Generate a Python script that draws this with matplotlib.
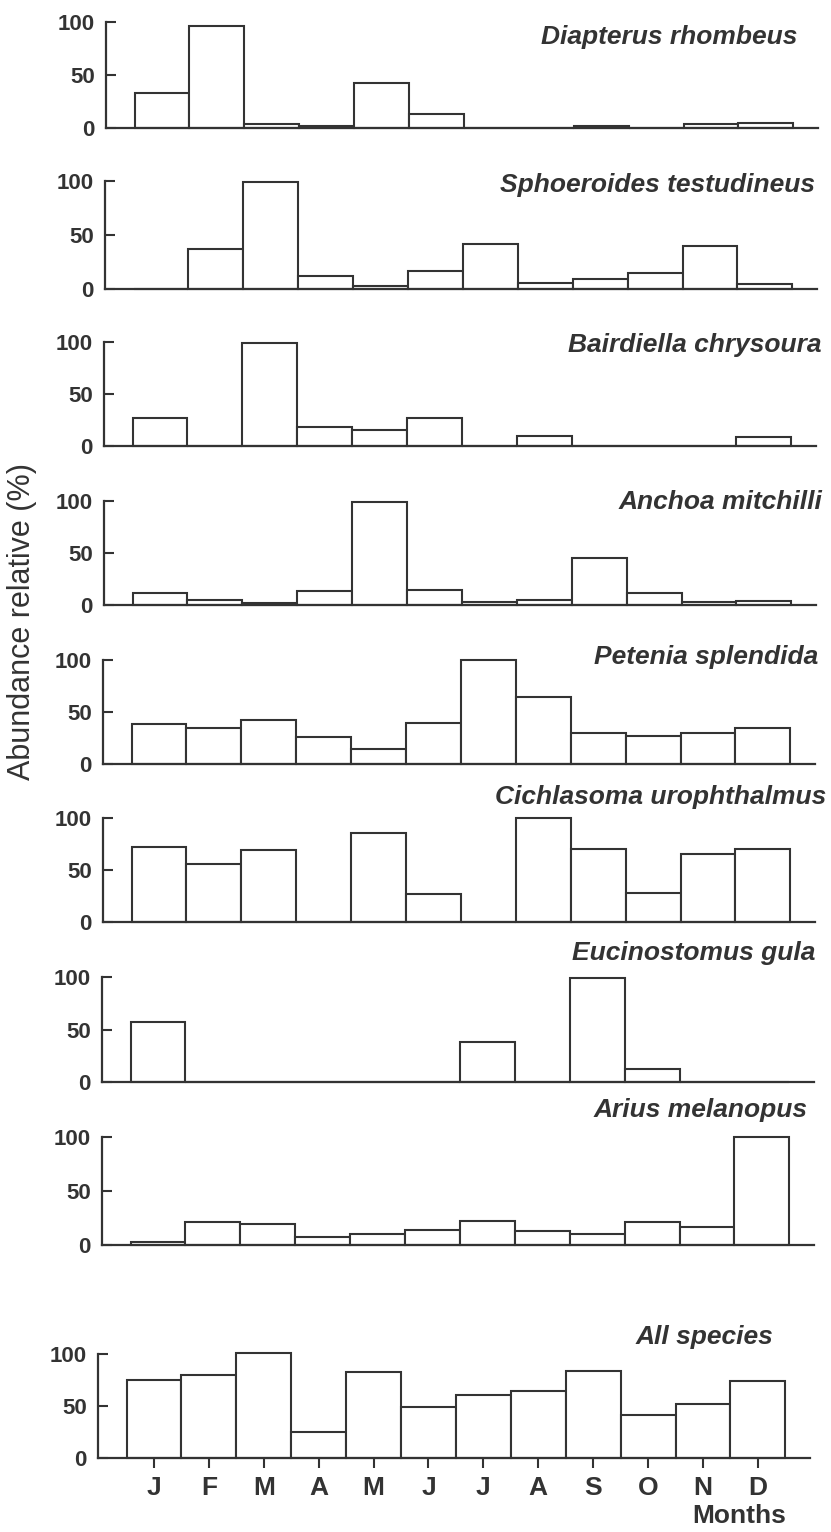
import matplotlib.pyplot as plt
import numpy as np

months = ['J', 'F', 'M', 'A', 'M', 'J', 'J', 'A', 'S', 'O', 'N', 'D']

species = ['Diapterus rhombeus', 'Sphoeroides testudineus', 'Bairdiella chrysoura',
           'Anchoa mitchilli', 'Petenia splendida', 'Cichlasoma urophthalmus',
           'Eucinostomus gula', 'Arius melanopus', 'All species']

diapterus = [33, 96, 4, 2, 42, 13, 0, 0, 2, 0, 4, 5]
sphoeroides = [0, 37, 99, 12, 3, 17, 42, 6, 9, 15, 40, 5]
bairdiella = [27, 0, 99, 18, 15, 27, 0, 10, 0, 0, 0, 9]
anchoa = [12, 5, 2, 13, 99, 14, 3, 5, 45, 12, 3, 4]
petenia = [38, 35, 42, 26, 14, 39, 100, 64, 30, 27, 30, 35]
cichlasoma = [72, 56, 69, 0, 86, 27, 0, 100, 70, 28, 65, 70]
eucinostomus = [57, 0, 0, 0, 0, 0, 38, 0, 99, 12, 0, 0]
arius = [3, 21, 19, 7, 10, 14, 22, 13, 10, 21, 17, 100]
all_species = [75, 80, 101, 25, 83, 49, 61, 64, 84, 41, 52, 74]

series = [diapterus, sphoeroides, bairdiella, anchoa, petenia, cichlasoma,
          eucinostomus, arius, all_species]

# layout in pixels (figure is 831 x 1532)
W, H = 831, 1532
left_px = [106, 105, 104, 104, 103, 103, 102, 102, 98]
zero_px = [128, 289, 446, 605, 764, 922, 1082, 1245, 1458]
top_px = [22, 181, 342, 501, 660, 818, 977, 1137, 1354]
title_right = [797, 815, 822, 822, 818, 826, 815, 808, 773]
title_y = [37, 185, 345, 502, 657, 797, 953, 1110, 1337]

plt.rcParams['font.family'] = ['Liberation Sans', 'DejaVu Sans']
ink = '#333333'

fig = plt.figure(figsize=(W / 100, H / 100), dpi=100)
x = np.arange(12)
for i in range(9):
    ax = fig.add_axes([left_px[i] / W, 1 - zero_px[i] / H, 712 / W, (zero_px[i] - top_px[i]) / H])
    ax.bar(x, series[i], width=1.0, facecolor='white', edgecolor=ink, linewidth=1.5, clip_on=False)
    ax.set_xlim(-1.02, 11.95)
    ax.set_ylim(0, 100)
    ax.spines['top'].set_visible(False)
    ax.spines['right'].set_visible(False)
    for s in ['left', 'bottom']:
        ax.spines[s].set_color(ink)
        ax.spines[s].set_linewidth(1.6)
    ax.set_yticks([0, 50, 100])
    ax.tick_params(axis='y', direction='in', length=7, width=1.5, color=ink, pad=8,
                   labelsize=16, labelcolor=ink)
    for t in ax.get_yticklabels():
        t.set_fontweight('bold')
    if i < 8:
        ax.set_xticks([])
    else:
        ax.set_xticks(x)
        ax.set_xticklabels(months, fontsize=19, fontweight='bold', color=ink)
        ax.tick_params(axis='x', direction='out', length=7, width=1.5, color=ink, pad=6)
    fig.text(title_right[i] / W, 1 - title_y[i] / H, species[i], ha='right', va='center',
             fontsize=19, fontweight='bold', fontstyle='italic', color=ink)

fig.text(22 / W, 1 - 622 / H, 'Abundance relative (%)', rotation=90, ha='center', va='center',
         fontsize=22, color=ink)
fig.text(739 / W, 1 - 1516 / H, 'Months', ha='center', va='center',
         fontsize=19, fontweight='bold', color=ink)

fig.savefig('out.png', dpi=100, facecolor='white')
